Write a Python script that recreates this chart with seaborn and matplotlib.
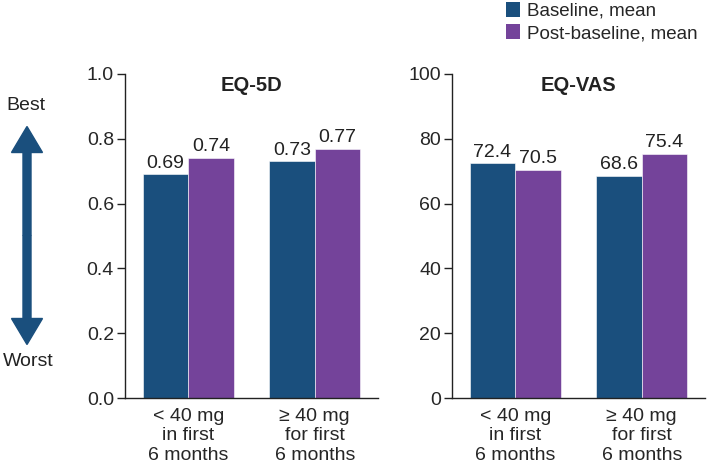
import matplotlib
matplotlib.use("Agg")
from matplotlib import pyplot as plt
from matplotlib.patches import FancyArrow, Patch
import pandas as pd
import seaborn as sns

# data
groups = ["< 40 mg\nin first\n6 months", "\u2265 40 mg\nfor first\n6 months"]
series = ["Baseline, mean", "Post-baseline, mean"]
eq5d_base = [0.69, 0.73]
eq5d_post = [0.74, 0.77]
vas_base = [72.4, 68.6]
vas_post = [70.5, 75.4]

colors = ["#1a4f7d", "#74439a"]
fs = 14

sns.set_theme(style="white")
plt.rcParams["font.family"] = ["Liberation Sans", "DejaVu Sans"]

fig = plt.figure(figsize=(7.08, 4.74), dpi=100)
ax1 = fig.add_axes([0.1766, 0.1603, 0.3574, 0.6836])
ax2 = fig.add_axes([0.6384, 0.1603, 0.3574, 0.6836])


def panel(ax, base, post, title, ymax, yticks, ylabels, fmt):
    df = pd.DataFrame({
        "group": groups * 2,
        "series": [series[0]] * 2 + [series[1]] * 2,
        "value": base + post,
    })
    sns.barplot(data=df, x="group", y="value", hue="series", palette=colors,
                width=0.72, saturation=1, legend=False, ax=ax,
                edgecolor="white", linewidth=0.4)
    for cont in ax.containers:
        ax.bar_label(cont, labels=[fmt.format(v) for v in cont.datavalues],
                     padding=2, fontsize=fs, color="#222222")
    ax.set_xlim(-0.5, 1.5)
    ax.set_ylim(0, ymax)
    ax.set_yticks(yticks)
    ax.set_yticklabels(ylabels)
    ax.set_xticks([-0.5, 0.5, 1.5])
    ax.set_xticklabels([])
    ax.set_xticks([0, 1], minor=True)
    ax.set_xticklabels(groups, minor=True, fontsize=fs, linespacing=1.2)
    ax.tick_params(axis="x", which="minor", length=0, pad=7)
    ax.tick_params(axis="x", which="major", length=6, width=1, color="#222222", direction="out")
    ax.tick_params(axis="y", length=6, width=1, color="#222222", labelsize=fs, pad=2, left=True)
    ax.set_xlabel("")
    ax.set_ylabel("")
    for s in ["top", "right"]:
        ax.spines[s].set_visible(False)
    for s in ["left", "bottom"]:
        ax.spines[s].set_color("#222222")
        ax.spines[s].set_linewidth(1)
    ax.text(0.5, 0.995, title, transform=ax.transAxes, ha="center", va="top",
            fontsize=14.5, fontweight="bold", color="#222222")


panel(ax1, eq5d_base, eq5d_post, "EQ-5D", 1.0, [0, 0.2, 0.4, 0.6, 0.8, 1.0],
      ["0.0", "0.2", "0.4", "0.6", "0.8", "1.0"], "{:.2f}")
panel(ax2, vas_base, vas_post, "EQ-VAS", 100, [0, 20, 40, 60, 80, 100],
      ["0", "20", "40", "60", "80", "100"], "{:.1f}")

# best / worst arrow (inches from bottom-left)
xc = 0.27
ymid = 2.385
for d in (1, -1):
    fig.patches.append(FancyArrow(xc, ymid, 0, d * 1.09, width=0.08, head_width=0.31,
                                  head_length=0.26, length_includes_head=True,
                                  color=colors[0], transform=fig.dpi_scale_trans))
fig.text(26 / 708, 1 - 105 / 474, "Best", ha="center", va="center", fontsize=fs, color="#222222")
fig.text(28 / 708, 1 - 362 / 474, "Worst", ha="center", va="center", fontsize=fs, color="#222222")

handles = [Patch(facecolor=c, edgecolor="none") for c in colors]
fig.legend(handles, series, loc="upper left", bbox_to_anchor=(498 / 708, 1.012),
           frameon=False, fontsize=13.5, handlelength=0.75, handleheight=0.85,
           handletextpad=0.4, labelspacing=0.25, borderaxespad=0)

fig.savefig("out.png", dpi=100)
